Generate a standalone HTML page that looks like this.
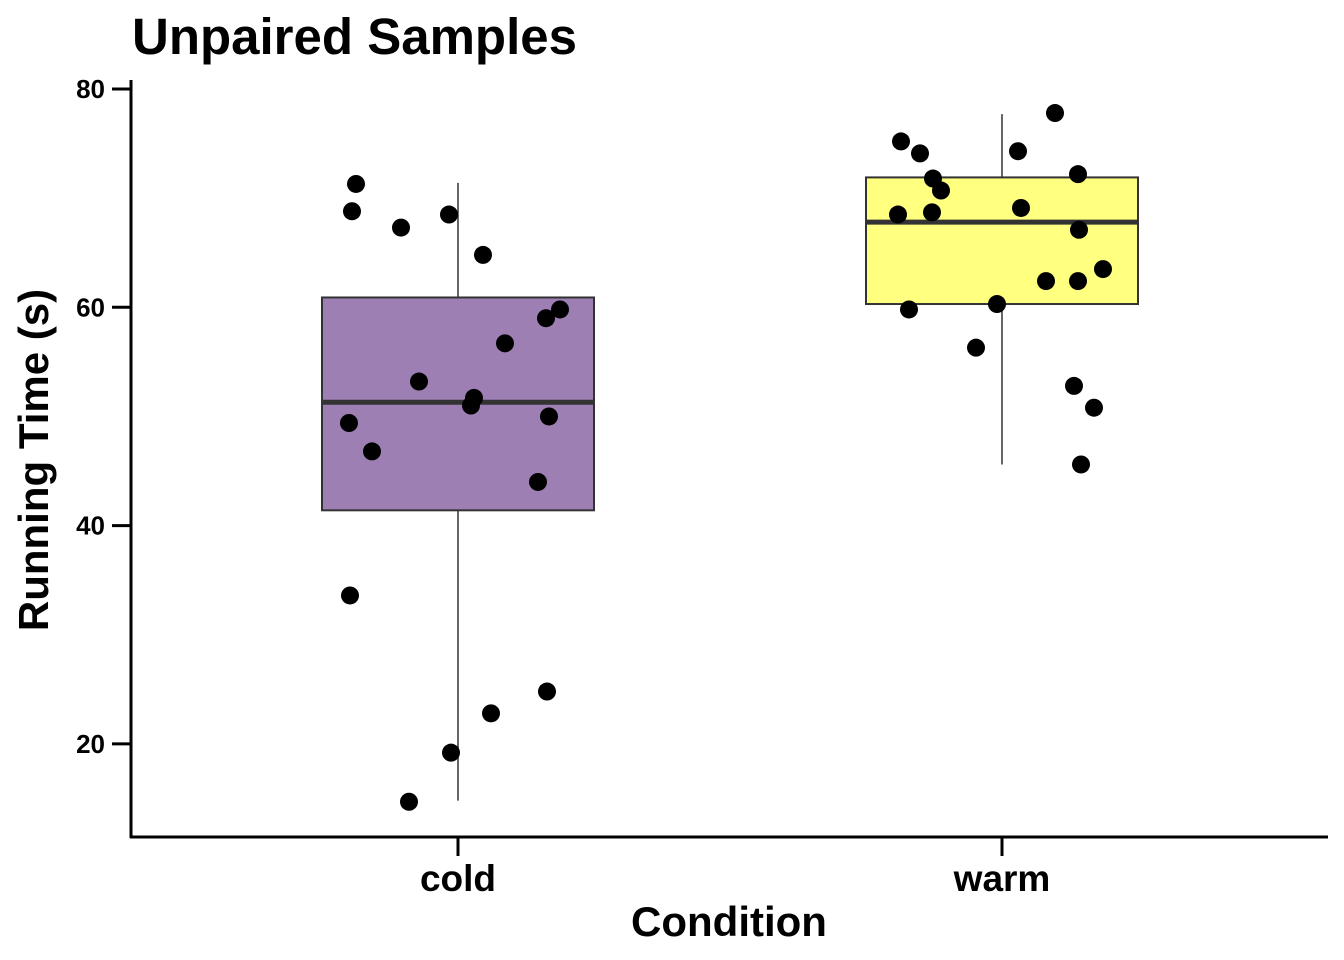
<!DOCTYPE html>
<html><head><meta charset="utf-8"><style>
body{margin:0;background:#fff;}
svg{display:block;font-family:"Liberation Sans",Arial,sans-serif;font-weight:bold;}
</style></head><body>
<svg id="chart" width="1344" height="960" xmlns="http://www.w3.org/2000/svg">
<text x="132" y="54" font-size="51">Unpaired Samples</text>
<g id="plot"></g>
<text x="729" y="936" font-size="42" text-anchor="middle">Condition</text>
<text transform="translate(48,460) rotate(-90)" font-size="42" text-anchor="middle">Running Time (s)</text>
</svg>
<script>
const categories = ["cold","warm"];
const colors = ["#9e7fb4","#ffff80"];
const q1 = [41.4, 60.3];
const median = [51.3, 67.8];
const q3 = [60.9, 71.9];
const whiskerLow = [14.8, 45.6];
const whiskerHigh = [71.4, 77.7];
const yTicks = [20,40,60,80];
const coldX = [356,352,401,449,483,560,546,505,419,474,471,349,549,372,538,350,547,491,451,409];
const coldY = [71.3,68.8,67.3,68.5,64.8,59.8,59.0,56.7,53.2,51.7,51.0,49.4,50.0,46.8,44.0,33.6,24.8,22.8,19.2,14.7];
const warmX = [901,920,933,941,1018,1055,1078,898,932,1021,1079,1103,1046,1078,909,997,976,1074,1094,1081];
const warmY = [75.2,74.1,71.8,70.7,74.3,77.8,72.2,68.5,68.7,69.1,67.1,63.5,62.4,62.4,59.8,60.3,56.3,52.8,50.8,45.6];
const centers = [458,1002];
const y = v => 89 + (80 - v) * 10.915;
const x = i => centers[i];
const NS = "http://www.w3.org/2000/svg";
const g = document.getElementById("plot");
function mk(tag, attrs){const e=document.createElementNS(NS,tag);for(const k in attrs)e.setAttribute(k,attrs[k]);g.appendChild(e);return e;}
categories.forEach((c,i)=>{
  const w = mk("line",{x1:x(i),x2:x(i),y1:y(whiskerLow[i]),y2:y(whiskerHigh[i]),stroke:"#333","stroke-width":1.5});
  
  
  const b = mk("rect",{x:x(i)-136,width:272,y:y(q3[i]),height:y(q1[i])-y(q3[i]),fill:colors[i],stroke:"#333","stroke-width":2});
  
  
  const m = mk("line",{x1:x(i)-136,x2:x(i)+136,y1:y(median[i]),y2:y(median[i]),stroke:"#333","stroke-width":5});
  
  
});
function pts(xs, ys, name){
  xs.forEach((px,k)=>{
    const p = mk("circle",{cx:px,cy:y(ys[k]),r:9,fill:"#000"});
    
    
  });
}
pts(coldX, coldY, "cold");
pts(warmX, warmY, "warm");
const ya = mk("line",{x1:131,x2:131,y1:80,y2:838,stroke:"#000","stroke-width":3});


const xa = mk("line",{x1:130,x2:1328,y1:837,y2:837,stroke:"#000","stroke-width":3});


yTicks.forEach(t=>{
  const tk = mk("line",{x1:112,x2:131,y1:y(t),y2:y(t),stroke:"#000","stroke-width":3});
  
  
  const tl = mk("text",{x:105,y:y(t)+9,"font-size":26,"text-anchor":"end"});
  tl.textContent = t;
  
  
});
categories.forEach((c,i)=>{
  const tk = mk("line",{x1:x(i),x2:x(i),y1:837,y2:856,stroke:"#000","stroke-width":3});
  
  
  const tl = mk("text",{x:x(i),y:891,"font-size":37,"text-anchor":"middle"});
  tl.textContent = c;
  
  
});
</script>
</body></html>
